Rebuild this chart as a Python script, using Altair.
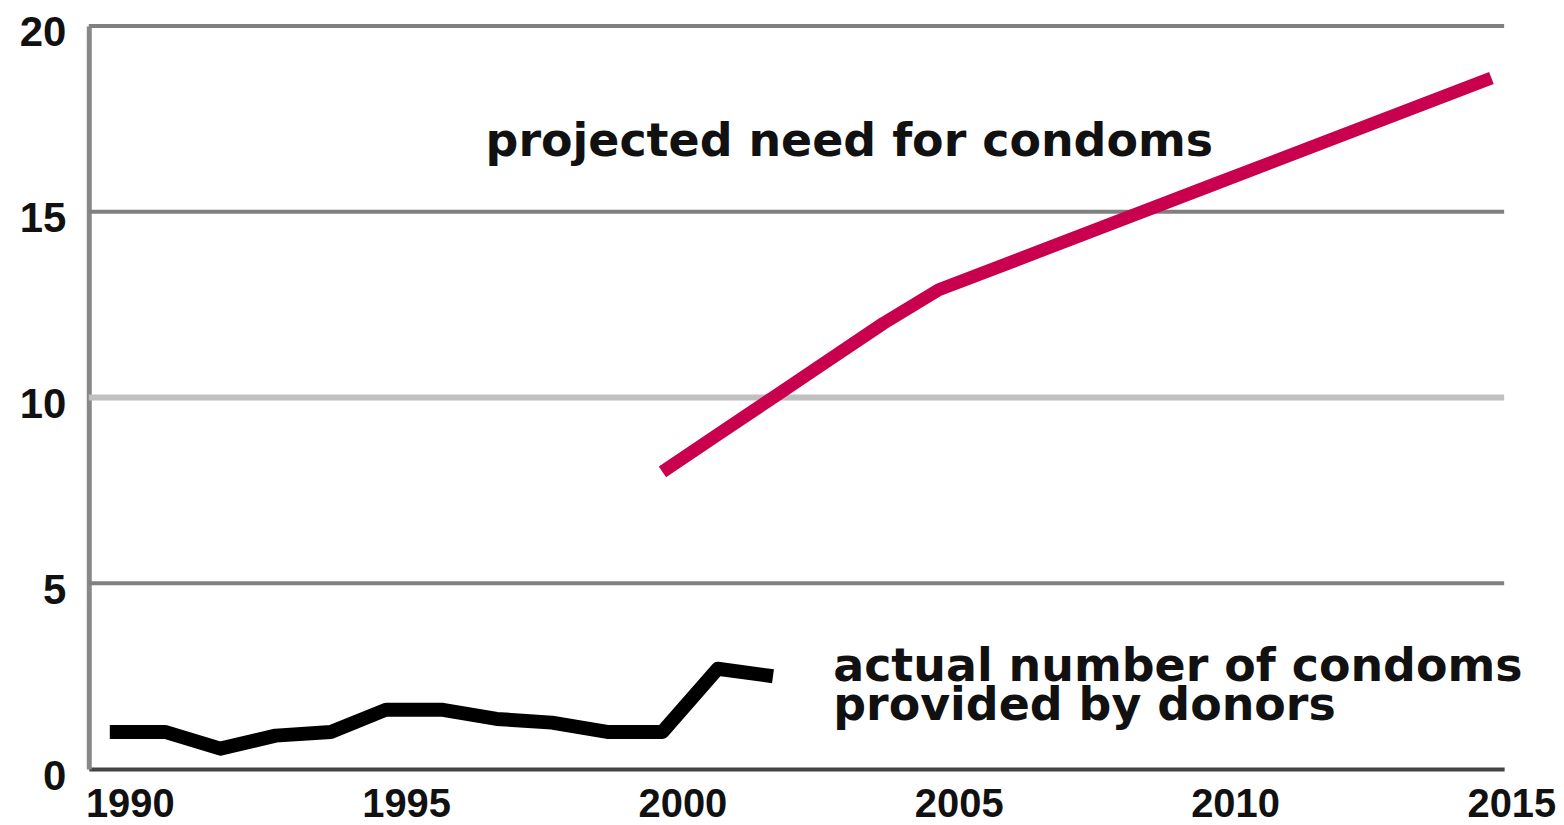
import altair as alt
import pandas as pd

# ---- data ----
donor_years = [1990, 1991, 1992, 1993, 1994, 1995, 1996, 1997, 1998, 1999, 2000, 2001, 2002]
donor_values = [1.0, 1.0, 0.55, 0.9, 1.0, 1.6, 1.6, 1.35, 1.25, 1.0, 1.0, 2.7, 2.5]

need_years = [2000, 2001, 2002, 2003, 2004, 2005, 2010, 2015]
need_values = [8.0, 9.0, 10.0, 11.0, 12.0, 12.9, 15.75, 18.6]

x_ticks = [1990, 1995, 2000, 2005, 2010, 2015]
y_ticks = [0, 5, 10, 15, 20]
grid_dark = [5, 15, 20]
grid_light = [10]

label_need = "projected need for condoms"
label_donor = ["actual number of condoms", "provided by donors"]

W, H = 1419, 745

donor_df = pd.DataFrame({"year": donor_years, "value": donor_values})
need_df = pd.DataFrame({"year": need_years, "value": need_values})
grid_dark_df = pd.DataFrame({"value": grid_dark})
grid_light_df = pd.DataFrame({"value": grid_light})

x_axis = alt.Axis(
    values=x_ticks, format="d", title=None, grid=False, ticks=False, tickSize=0,
    domainColor="#444444", domainWidth=4,
    labelFont="Liberation Sans", labelFontSize=40, labelFontWeight="bold",
    labelColor="#111111", labelPadding=16, labelOffset=20,
    labelOverlap=False, labelFlush=False,
)
y_axis = alt.Axis(
    values=y_ticks, title=None, grid=False, ticks=False, tickSize=0,
    domainColor="#888888", domainWidth=5,
    labelFont="Liberation Sans", labelFontSize=42, labelFontWeight="bold",
    labelColor="#111111", labelPadding=23, labelOffset=7,
    labelOverlap=False, labelFlush=False,
)
x_scale = alt.Scale(domain=[1989.62, 2015.23], nice=False, zero=False)
y_scale = alt.Scale(domain=[0, 20], nice=False)

x_enc = alt.X("year:Q", scale=x_scale, axis=x_axis)
y_enc = alt.Y("value:Q", scale=y_scale, axis=y_axis)

grid1 = alt.Chart(grid_dark_df).mark_rule(color="#808080", strokeWidth=4).encode(
    y=alt.Y("value:Q", scale=y_scale, axis=y_axis), x=alt.value(0), x2=alt.value(W)
)
grid2 = alt.Chart(grid_light_df).mark_rule(color="#c0c0c0", strokeWidth=6).encode(
    y=alt.Y("value:Q", scale=y_scale, axis=y_axis), x=alt.value(0), x2=alt.value(W)
)

donor_line = alt.Chart(donor_df).mark_line(
    color="#000000", strokeWidth=14, strokeJoin="round", strokeCap="butt"
).encode(x=x_enc, y=y_enc)

need_line = alt.Chart(need_df).mark_line(
    color="#c8004e", strokeWidth=13, strokeJoin="round", strokeCap="butt"
).encode(x=x_enc, y=y_enc)

text_style = dict(font="DejaVu Sans", fontSize=46, fontWeight="bold", color="#111111",
                  align="left", baseline="alphabetic")

t1 = alt.Chart().mark_text(text=label_need, **text_style).encode(
    x=alt.datum(1996.8), y=alt.datum(16.5)
)
t2 = alt.Chart().mark_text(text=label_donor, lineHeight=39, **text_style).encode(
    x=alt.datum(2003.09), y=alt.datum(2.38)
)

chart = alt.layer(grid1, grid2, donor_line, need_line, t1, t2).properties(
    width=W, height=H,
    padding={"left": 81, "top": 17, "right": 52, "bottom": 58},
    autosize=alt.AutoSizeParams(type="none"),
).configure_view(strokeWidth=0)

chart.save("out.html", embed_options={"renderer": "svg", "actions": False})
